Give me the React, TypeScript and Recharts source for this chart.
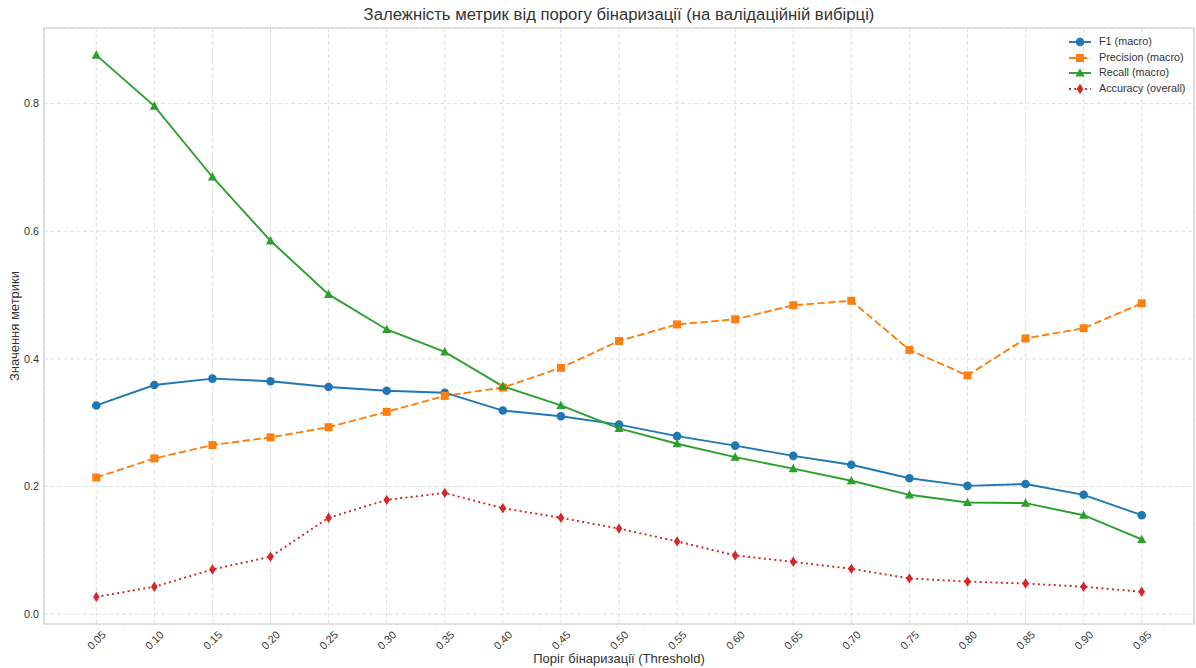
import React from 'react';
import {
  LineChart,
  Line,
  XAxis,
  YAxis,
  CartesianGrid,
  ReferenceArea,
} from 'recharts';

// Binarization thresholds (x axis)
const thresholds = [
  0.05, 0.1, 0.15, 0.2, 0.25, 0.3, 0.35, 0.4, 0.45, 0.5,
  0.55, 0.6, 0.65, 0.7, 0.75, 0.8, 0.85, 0.9, 0.95,
];

// Metric values per threshold on the validation split
const f1Macro = [
  0.327, 0.359, 0.369, 0.365, 0.356, 0.35, 0.347, 0.319, 0.31, 0.297,
  0.279, 0.264, 0.248, 0.234, 0.213, 0.201, 0.204, 0.187, 0.155,
];
const precisionMacro = [
  0.214, 0.244, 0.265, 0.277, 0.293, 0.317, 0.342, 0.355, 0.386, 0.428,
  0.454, 0.462, 0.484, 0.491, 0.414, 0.374, 0.432, 0.448, 0.487,
];
const recallMacro = [
  0.876, 0.796, 0.685, 0.585, 0.501, 0.446, 0.411, 0.357, 0.327, 0.291,
  0.267, 0.246, 0.228, 0.209, 0.187, 0.175, 0.174, 0.155, 0.117,
];
const accuracyOverall = [
  0.027, 0.043, 0.07, 0.09, 0.151, 0.179, 0.19, 0.166, 0.151, 0.134,
  0.114, 0.092, 0.082, 0.071, 0.056, 0.051, 0.048, 0.043, 0.035,
];

const yTicks = [0, 0.2, 0.4, 0.6, 0.8];

const COLORS = {
  f1: '#1f77b4',
  precision: '#ff7f0e',
  recall: '#2ca02c',
  accuracy: '#d62728',
};

const FONT = '"Liberation Sans", Arial, sans-serif';
const TEXT = '#333333';

const data = thresholds.map((t, i) => ({
  threshold: t,
  f1: f1Macro[i],
  precision: precisionMacro[i],
  recall: recallMacro[i],
  accuracy: accuracyOverall[i],
}));

// Axis limits with a 5% padding around the data range
const xPad = (thresholds[thresholds.length - 1] - thresholds[0]) * 0.05;
const xDomain: [number, number] = [thresholds[0] - xPad, thresholds[thresholds.length - 1] + xPad];
const allValues = [...f1Macro, ...precisionMacro, ...recallMacro, ...accuracyOverall];
const yMin = Math.min(...allValues);
const yMax = Math.max(...allValues);
const yPad = (yMax - yMin) * 0.05;
const yDomain: [number, number] = [yMin - yPad, yMax + yPad];

// Marker shapes
const circleShape = (cx: number, cy: number, color: string, key?: any) => (
  <circle key={key} cx={cx} cy={cy} r={4.3} fill={color} />
);
const squareShape = (cx: number, cy: number, color: string, key?: any) => (
  <rect key={key} x={cx - 4} y={cy - 4} width={8} height={8} fill={color} />
);
const triangleShape = (cx: number, cy: number, color: string, key?: any) => (
  <polygon
    key={key}
    points={`${cx},${cy - 4.8} ${cx + 4.6},${cy + 3.6} ${cx - 4.6},${cy + 3.6}`}
    fill={color}
  />
);
const diamondShape = (cx: number, cy: number, color: string, key?: any) => (
  <polygon
    key={key}
    points={`${cx},${cy - 5.2} ${cx + 3.3},${cy} ${cx},${cy + 5.2} ${cx - 3.3},${cy}`}
    fill={color}
  />
);

const makeDot = (shape: typeof circleShape, color: string) => (props: any) => {
  const { cx, cy, index } = props;
  if (cx == null || cy == null) return <g key={`e-${index}`} />;
  return shape(cx, cy, color, `d-${index}`);
};

const series = [
  { key: 'f1', name: 'F1 (macro)', color: COLORS.f1, shape: circleShape, dash: undefined as string | undefined },
  { key: 'precision', name: 'Precision (macro)', color: COLORS.precision, shape: squareShape, dash: '7.5 3.3' },
  { key: 'recall', name: 'Recall (macro)', color: COLORS.recall, shape: triangleShape, dash: undefined },
  { key: 'accuracy', name: 'Accuracy (overall)', color: COLORS.accuracy, shape: diamondShape, dash: '2 3.3' },
];

const XTick = (props: any) => {
  const { x, y, payload } = props;
  return (
    <text
      transform={`translate(${x},${y + 14}) rotate(-45)`}
      textAnchor="middle"
      dominantBaseline="central"
      fontSize={10.8}
      fill={TEXT}
      fontFamily={FONT}
    >
      {Number(payload.value).toFixed(2)}
    </text>
  );
};

const LegendBox = () => (
  <div
    style={{
      position: 'absolute',
      top: 34,
      left: 1068,
      fontFamily: FONT,
      fontSize: 10.8,
      color: TEXT,
      lineHeight: '15.7px',
    }}
  >
    {series.map((s) => (
      <div key={s.key} style={{ display: 'flex', alignItems: 'center', height: 15.7 }}>
        <svg width={24} height={14} style={{ marginRight: 7 }}>
          <line
            x1={1}
            y1={7}
            x2={23}
            y2={7}
            stroke={s.color}
            strokeWidth={1.9}
            strokeDasharray={s.dash}
          />
          {s.shape(12, 7, s.color)}
        </svg>
        <span>{s.name}</span>
      </div>
    ))}
  </div>
);

const YLabel = (props: any) => {
  const { viewBox } = props;
  const cy = viewBox.y + viewBox.height / 2;
  return (
    <text
      x={14}
      y={cy}
      transform={`rotate(-90 14 ${cy})`}
      textAnchor="middle"
      dominantBaseline="central"
      fontSize={13}
      fill={TEXT}
      fontFamily={FONT}
    >
      Значення метрики
    </text>
  );
};

const XLabel = (props: any) => {
  const { viewBox } = props;
  const cx = viewBox.x + viewBox.width / 2;
  return (
    <text
      x={cx}
      y={663}
      textAnchor="middle"
      fontSize={13}
      fill={TEXT}
      fontFamily={FONT}
    >
      Поріг бінаризації (Threshold)
    </text>
  );
};

export default function App() {
  return (
    <div style={{ position: 'absolute', left: 0, top: 0, width: 1196, height: 668, background: '#fff' }}>
      <div
        style={{
          position: 'absolute',
          left: 44,
          width: 1150,
          top: 5,
          textAlign: 'center',
          fontFamily: FONT,
          fontSize: 16.7,
          color: TEXT,
        }}
      >
        Залежність метрик від порогу бінаризації (на валідаційній вибірці)
      </div>
      <LineChart
        width={1196}
        height={668}
        data={data}
        margin={{ top: 28, right: 2, left: 0, bottom: 0 }}
        style={{ fontFamily: FONT }}
      >
        <CartesianGrid stroke="#e0e0e0" strokeDasharray="4 2.5" />
        <ReferenceArea
          x1={xDomain[0]}
          x2={xDomain[1]}
          y1={yDomain[0]}
          y2={yDomain[1]}
          fill="none"
          stroke="#cccccc"
          strokeWidth={1.2}
          ifOverflow="visible"
        />
        <XAxis
          dataKey="threshold"
          type="number"
          domain={xDomain}
          ticks={thresholds}
          allowDataOverflow
          interval={0}
          height={44}
          axisLine={false}
          tickLine={false}
          tickSize={0}
          tick={<XTick />}
          label={<XLabel />}
        />
        <YAxis
          type="number"
          domain={yDomain}
          ticks={yTicks}
          allowDataOverflow
          width={44}
          axisLine={false}
          tickLine={false}
          tickSize={0}
          tickMargin={5}
          tickFormatter={(v: number) => v.toFixed(1)}
          tick={{ fontSize: 10.8, fill: TEXT, fontFamily: FONT }}
          label={<YLabel />}
        />
        {series.map((s) => (
          <Line
            key={s.key}
            type="linear"
            dataKey={s.key}
            name={s.name}
            stroke={s.color}
            strokeWidth={1.9}
            strokeDasharray={s.dash}
            dot={makeDot(s.shape, s.color)}
            activeDot={false}
            isAnimationActive={false}
          />
        ))}
      </LineChart>
      <LegendBox />
    </div>
  );
}
